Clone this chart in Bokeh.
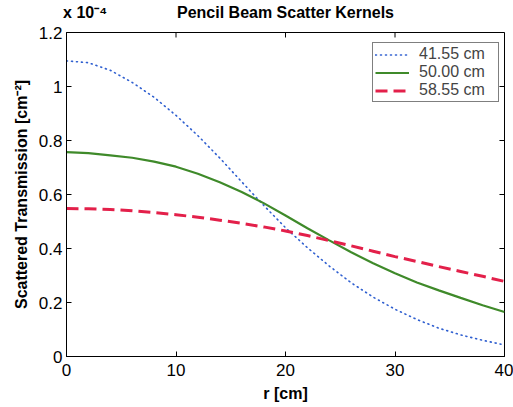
from bokeh.plotting import figure
from bokeh.models import (Range1d, LinearAxis, FixedTicker, Legend, LegendItem)
from bokeh.embed import file_html
from bokeh.resources import INLINE

# ---- data (values in units of 1e-4 cm^-2) ----
r_cm = [0, 2, 4, 6, 8, 10, 12, 14, 16, 18, 20, 22, 24, 26, 28, 30, 32, 34, 36, 38, 40]
k_41_55 = [1.095, 1.088, 1.060, 1.015, 0.960, 0.893, 0.818, 0.735, 0.647, 0.560, 0.477,
           0.403, 0.335, 0.273, 0.220, 0.175, 0.137, 0.105, 0.080, 0.060, 0.043]
k_50_00 = [0.757, 0.753, 0.745, 0.736, 0.722, 0.703, 0.677, 0.645, 0.609, 0.568, 0.522,
           0.475, 0.430, 0.386, 0.345, 0.308, 0.274, 0.245, 0.217, 0.190, 0.165]
k_58_55 = [0.548, 0.547, 0.544, 0.540, 0.533, 0.525, 0.516, 0.505, 0.493, 0.480, 0.465,
           0.448, 0.429, 0.410, 0.390, 0.370, 0.352, 0.333, 0.315, 0.297, 0.278]
series_labels = ["41.55 cm", "50.00 cm", "58.55 cm"]
x_ticks = [0, 10, 20, 30, 40]
y_ticks = [0, 0.2, 0.4, 0.6, 0.8, 1.0, 1.2]
y_tick_labels = ["0", "0.2", "0.4", "0.6", "0.8", "1", "1.2"]
title_text = "Pencil Beam Scatter Kernels"
exponent_text = "x 10\u207b\u2074"
title_pos = 20.0      # centre of title along r
exponent_pos = 1.7    # centre of exponent note along r

FONT = "Liberation Sans"
X0, X1, Y0, Y1 = 0, 40, 0, 1.2

p = figure(width=513, height=407, x_range=Range1d(X0, X1), y_range=Range1d(Y0, Y1),
           output_backend="svg", toolbar_location=None,
           min_border_left=66, min_border_right=9, min_border_top=31, min_border_bottom=51)
p.xgrid.visible = False
p.ygrid.visible = False
p.outline_line_color = "black"
p.outline_line_width = 1
p.background_fill_color = "white"
p.border_fill_color = "white"

def style_axis(ax):
    ax.axis_line_color = "black"
    ax.major_tick_line_color = "black"
    ax.major_tick_in = 5
    ax.major_tick_out = 0
    ax.minor_tick_line_color = None
    ax.major_label_text_font = FONT
    ax.major_label_text_font_size = "17px"
    ax.major_label_text_color = "black"
    ax.axis_label_text_font = FONT
    ax.axis_label_text_font_size = "16px"
    ax.axis_label_text_font_style = "bold"
    ax.axis_label_text_color = "black"

xax = p.xaxis[0]
yax = p.yaxis[0]
xax.ticker = FixedTicker(ticks=x_ticks)
yax.ticker = FixedTicker(ticks=y_ticks)
yax.major_label_overrides = {t: l for t, l in zip(y_ticks, y_tick_labels)}
style_axis(xax)
style_axis(yax)
xax.axis_label = "r [cm]"
yax.axis_label = "Scattered Transmission [cm\u207b\u00b2]"
xax.major_label_standoff = 7
xax.axis_label_standoff = 6
yax.major_label_standoff = 4
yax.axis_label_standoff = 6

# top text row: title and exponent note, placed along r by a label-only axis
tax = LinearAxis(ticker=FixedTicker(ticks=[exponent_pos, title_pos]))
tax.major_label_overrides = {exponent_pos: exponent_text, title_pos: title_text}
tax.axis_line_color = None
tax.major_tick_line_color = None
tax.minor_tick_line_color = None
tax.major_tick_in = 0
tax.major_tick_out = 0
tax.major_label_standoff = 12
tax.major_label_text_font = FONT
tax.major_label_text_font_size = "16px"
tax.major_label_text_font_style = "bold"
tax.major_label_text_color = "black"
p.add_layout(tax, "above")

# inward ticks on the top and right edges of the box
tick_dy = 0.0185
tick_dx = 0.46
p.segment(x0=x_ticks, y0=[Y1] * len(x_ticks), x1=x_ticks, y1=[Y1 - tick_dy] * len(x_ticks),
          line_color="black", line_width=1)
p.segment(x0=[X1] * len(y_ticks), y0=y_ticks, x1=[X1 - tick_dx] * len(y_ticks), y1=y_ticks,
          line_color="black", line_width=1)

l1 = p.line(r_cm, k_41_55, line_color="#2f5fd0", line_width=1.6, line_dash="1 4", line_cap="round")
l2 = p.line(r_cm, k_50_00, line_color="#3f8a2a", line_width=2.2)
l3 = p.line(r_cm, k_58_55, line_color="#e3204a", line_width=3, line_dash="12 6")

legend = Legend(items=[LegendItem(label=series_labels[0], renderers=[l1]),
                       LegendItem(label=series_labels[1], renderers=[l2]),
                       LegendItem(label=series_labels[2], renderers=[l3])],
                location=(306, 254))
legend.label_text_font = FONT
legend.label_text_font_size = "16px"
legend.label_height = 17
legend.glyph_height = 17
legend.glyph_width = 34
legend.label_width = 77
legend.label_standoff = 10
legend.spacing = 0
legend.padding = 2
legend.margin = 0
legend.border_line_color = "black"
legend.border_line_width = 1
legend.background_fill_color = "white"
legend.background_fill_alpha = 1
p.add_layout(legend, "center")

open("out.html", "w").write(file_html(p, INLINE))
